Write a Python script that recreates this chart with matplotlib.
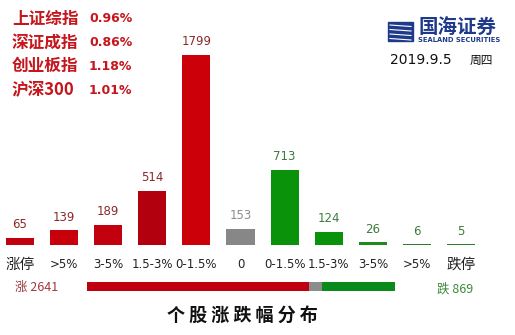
import matplotlib
matplotlib.use("Agg")
import matplotlib.pyplot as plt
from matplotlib.patches import Rectangle

plt.rcParams['font.family'] = ['DejaVu Sans', 'Noto Sans CJK SC']

# ---- data ----
categories = ["涨停", ">5%", "3-5%", "1.5-3%", "0-1.5%", "0", "0-1.5%", "1.5-3%", "3-5%", ">5%", "跌停"]
counts = [65, 139, 189, 514, 1799, 153, 713, 124, 26, 6, 5]
bar_colors = ["#c2000e", "#c8000c", "#c2000e", "#b3000f", "#cc0008", "#878787",
              "#0a920a", "#0a920a", "#1d8a1d", "#2e7d32", "#2e7d32"]
label_colors = ["#8a2a2a"] * 5 + ["#8c8c8c"] + ["#3d7a3d"] * 5
index_names = ["上证综指", "深证成指", "创业板指", "沪深300"]
index_changes = ["0.96%", "0.86%", "1.18%", "1.01%"]
up_total = 2641
flat_total = 153
down_total = 869
date_text = "2019.9.5"
weekday_text = "周四"
title_text = "个股涨跌幅分布"

W, H = 515, 335
fig = plt.figure(figsize=(W / 100, H / 100), dpi=100)
fig.patch.set_facecolor("white")

def fx(px):
    return px / W

def fy(py):
    return 1 - py / H

# ---- main bar axes ----
x0_px, step_px = 20, 44.1
bottom_px = 245
px_per_unit = 0.1056
ax = fig.add_axes([0, fy(bottom_px), 1, bottom_px / H])
xs = list(range(len(categories)))
ax.bar(xs, counts, width=28 / step_px, color=bar_colors, zorder=2)
ax.set_xlim(-x0_px / step_px, (W - x0_px) / step_px)
ax.set_ylim(0, bottom_px / px_per_unit)
for i, v in enumerate(counts):
    ax.annotate(str(v), (i, v), xytext=(0, 9.5), textcoords="offset points",
                ha="center", va="center", fontsize=8.5, color=label_colors[i])
ax.set_xticks(xs)
ax.set_xticklabels(categories)
for i, t in enumerate(ax.get_xticklabels()):
    if categories[i] in ("涨停", "跌停"):
        t.set_fontsize(10.5)
        t.set_fontfamily(["Noto Sans CJK SC"])
    else:
        t.set_fontsize(8.5)
    t.set_color("#222222")
ax.tick_params(axis="x", length=0, pad=9)
ax.tick_params(axis="y", left=False, labelleft=False)
for s in ax.spines.values():
    s.set_visible(False)
ax.patch.set_alpha(0)

# ---- rail bar: up / flat / down ----
ax2 = fig.add_axes([fx(87), fy(291), fx(395) - fx(87), (291 - 282) / H])
totals = [up_total, flat_total, down_total]
rail_colors = ["#c0000e", "#8c8c8c", "#0a8a1a"]
left = 0
for v, c in zip(totals, rail_colors):
    ax2.barh(0, v, left=left, height=1, color=c)
    left += v
ax2.set_xlim(0, sum(totals))
ax2.set_ylim(-0.5, 0.5)
ax2.axis("off")

fig.text(fx(15), fy(287), "涨 " + str(up_total), ha="left", va="center",
         fontsize=9, color="#a0383c", family=["Noto Sans CJK SC", "DejaVu Sans"])
fig.text(fx(437), fy(289), "跌 " + str(down_total), ha="left", va="center",
         fontsize=9, color="#3b8a3b", family=["Noto Sans CJK SC", "DejaVu Sans"])

# ---- title ----
fig.text(fx(242), fy(315), " ".join(title_text), ha="center", va="center",
         fontsize=13, fontweight="heavy", color="#111111",
         family=["Noto Sans CJK SC"])

# ---- index changes (top-left) ----
ys = [19, 43, 66, 90]
for name, chg, y in zip(index_names, index_changes, ys):
    fig.text(fx(12), fy(y), name, ha="left", va="center", fontsize=12,
             fontweight="bold", color="#c4161c", family=["Noto Sans CJK SC", "DejaVu Sans"])
    fig.text(fx(89), fy(y), chg, ha="left", va="center", fontsize=9,
             fontweight="bold", color="#c4161c", family=["DejaVu Sans"])

# ---- logo / date (top-right) ----
fig.patches.append(Rectangle((fx(388), fy(41)), fx(25), (41 - 22) / H,
                             transform=fig.transFigure, color="#1f3a8a", zorder=1))
for k in range(4):
    yy = 25 + k * 4.5
    fig.lines.append(plt.Line2D([fx(390), fx(411)], [fy(yy), fy(yy + 1.5)],
                                transform=fig.transFigure, color="white", lw=0.8, zorder=2))
fig.text(fx(418), fy(28.5), "国海证券", ha="left", va="center", fontsize=14,
         fontweight="bold", color="#1f3a8a", family=["Noto Sans CJK SC"])
fig.text(fx(418), fy(40.5), "SEALAND SECURITIES", ha="left", va="center", fontsize=4.9,
         fontweight="bold", color="#1f3a8a", family=["DejaVu Sans"])
fig.text(fx(390), fy(60), date_text, ha="left", va="center", fontsize=10,
         color="#111111", family=["DejaVu Sans"])
fig.text(fx(470), fy(60), weekday_text, ha="left", va="center", fontsize=8.5,
         color="#111111", family=["Noto Sans CJK SC"])

fig.savefig("out.png", dpi=100, facecolor="white")
